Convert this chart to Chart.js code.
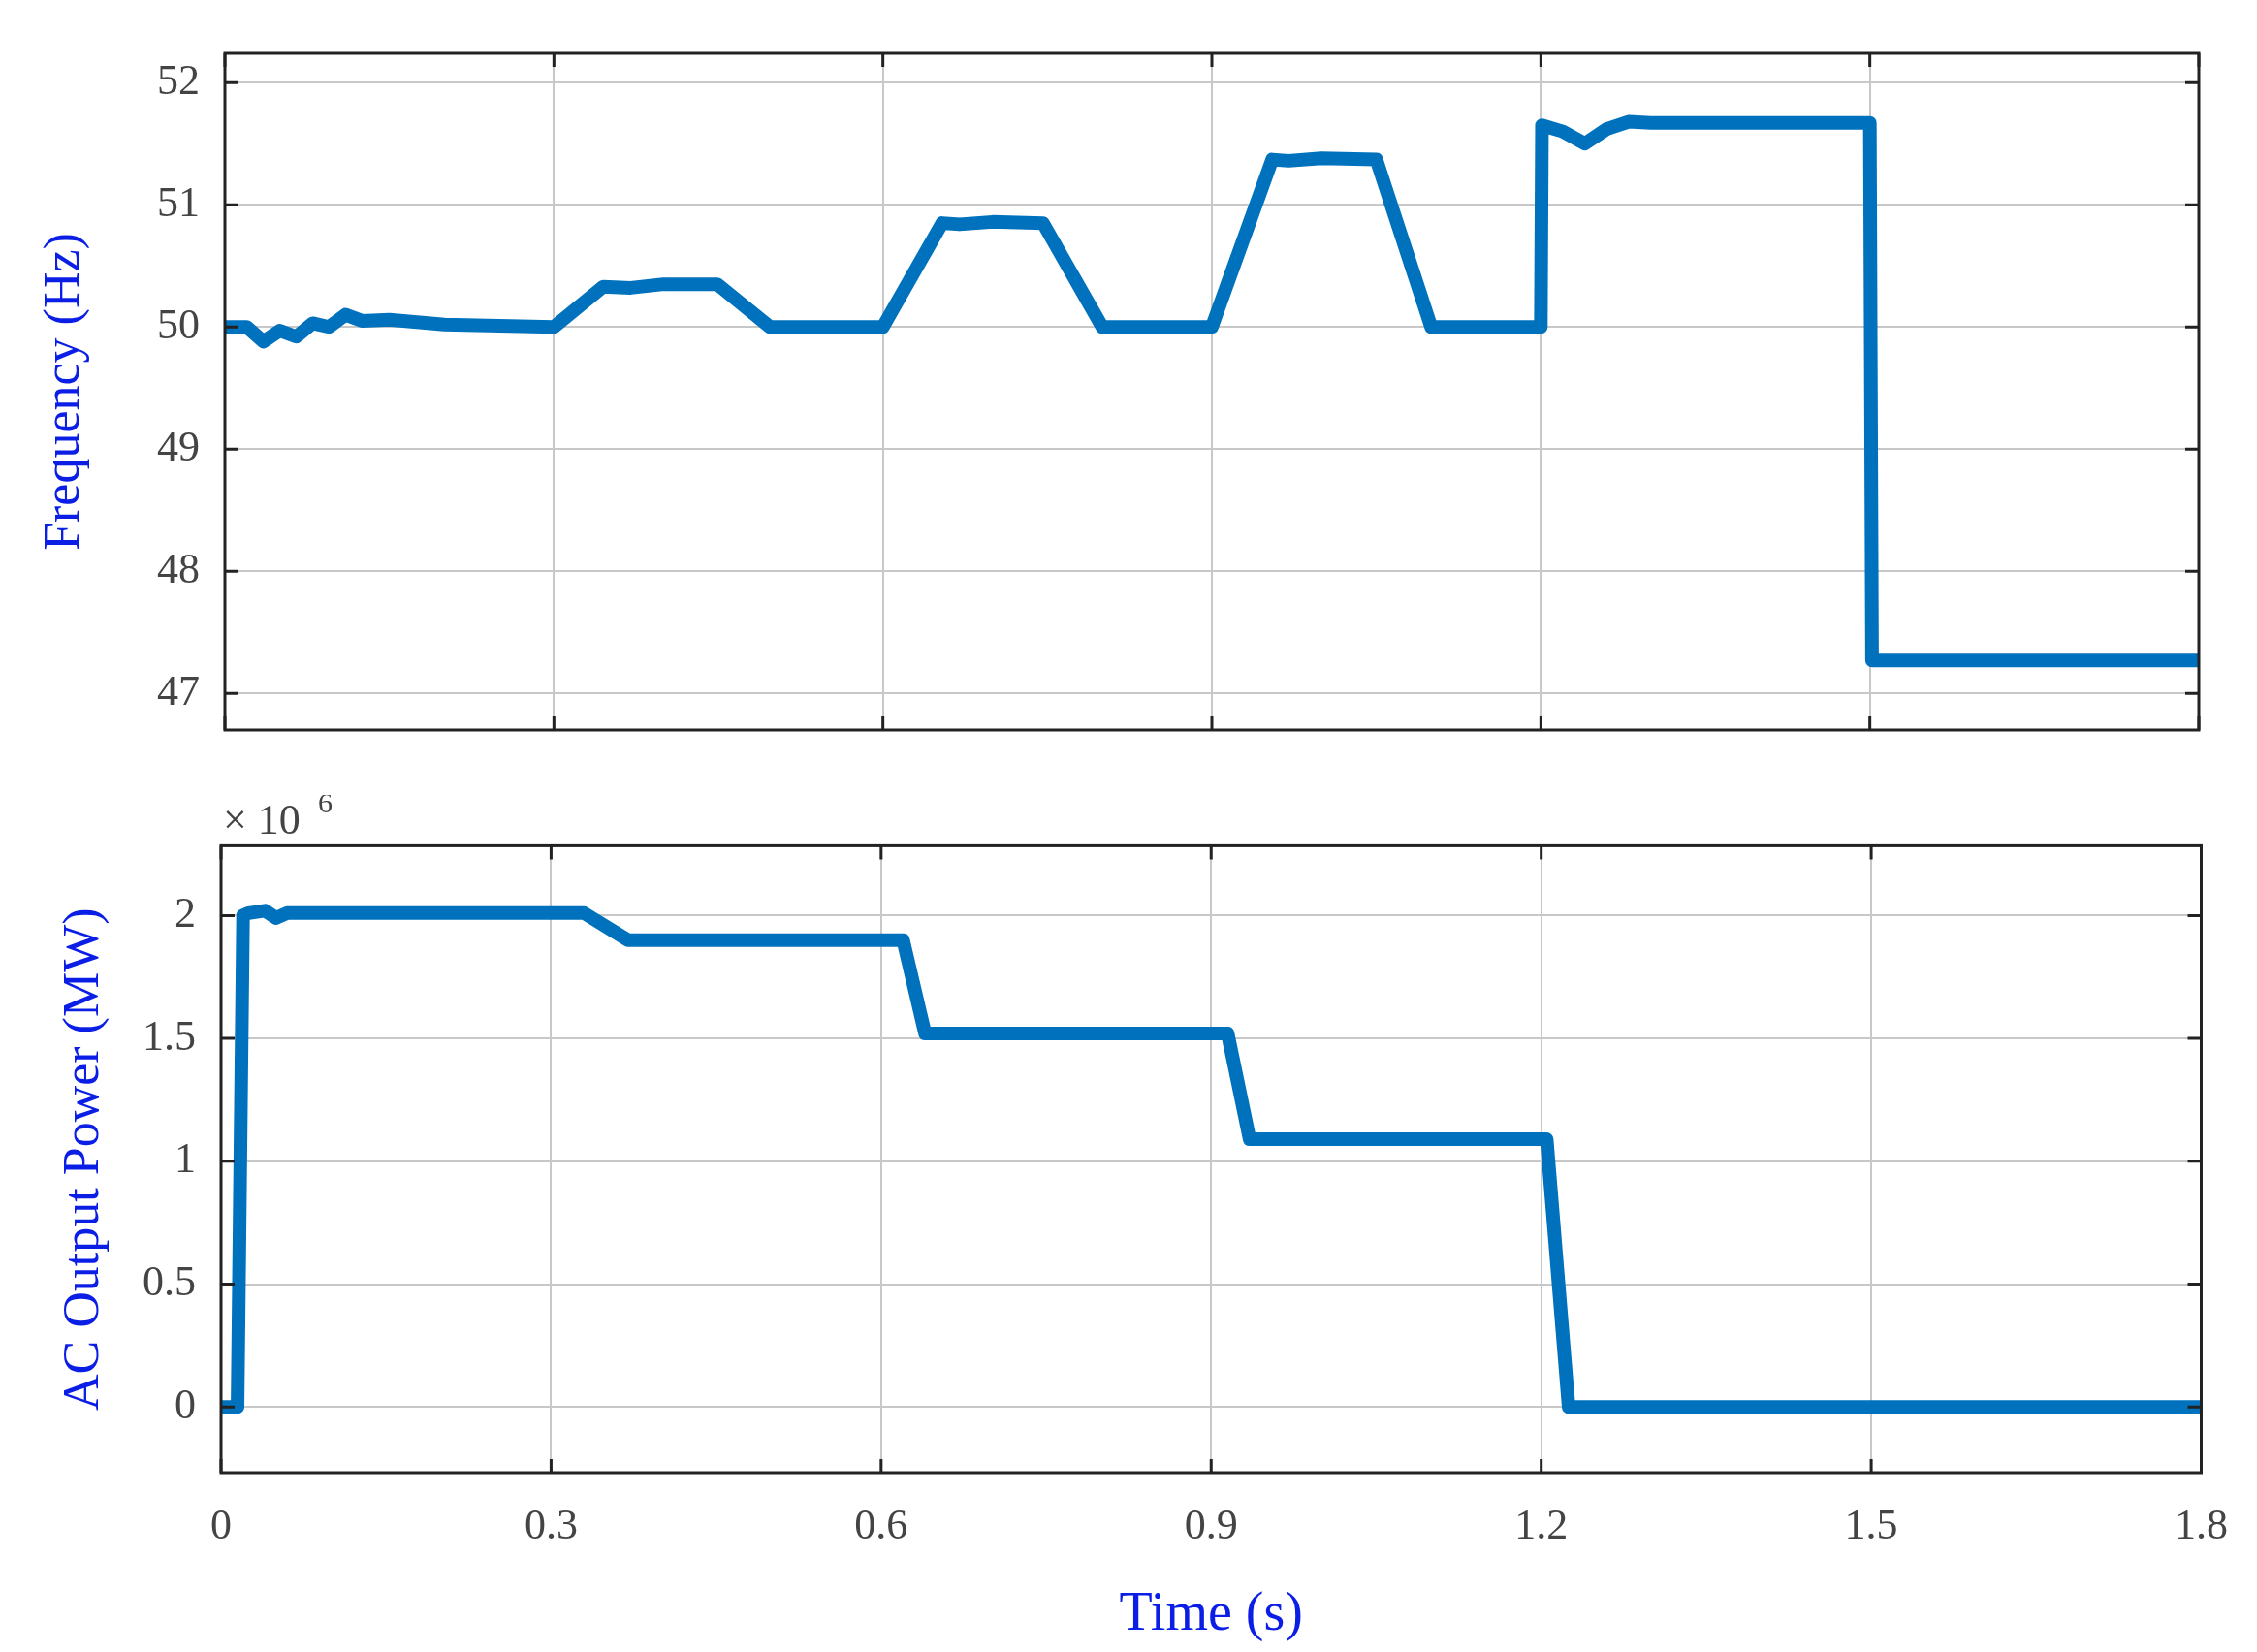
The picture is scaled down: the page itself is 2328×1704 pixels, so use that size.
<!DOCTYPE html>
<html>
<head>
<meta charset="utf-8">
<script src="https://cdn.jsdelivr.net/npm/chart.js@4"></script>
<style>
  body { margin: 0; background: #fff; }
  .wrap { position: absolute; left: 0; width: 2328px; }
  #topWrap { top: 0; height: 820px; }
  #botWrap { top: 820px; height: 884px; }
</style>
</head>
<body>
<div class="wrap" id="topWrap"><canvas id="freqChart"></canvas></div>
<div class="wrap" id="botWrap"><canvas id="powerChart"></canvas></div>
<script>
// Frequency (Hz) over time (s)
const freqTime = [0, 0.02, 0.035, 0.05, 0.065, 0.08, 0.095, 0.11, 0.125, 0.15, 0.2, 0.3, 0.345, 0.37, 0.4, 0.449, 0.497, 0.6, 0.654, 0.67, 0.7, 0.746, 0.8, 0.9, 0.955, 0.97, 1.0, 1.05, 1.1, 1.2, 1.201, 1.22, 1.24, 1.26, 1.28, 1.3, 1.5, 1.502, 1.8];
const freqValues = [50, 50, 49.88, 49.97, 49.92, 50.03, 50.0, 50.1, 50.05, 50.06, 50.02, 50.0, 50.33, 50.32, 50.35, 50.35, 50.0, 50.0, 50.85, 50.84, 50.86, 50.85, 50.0, 50.0, 51.37, 51.36, 51.38, 51.37, 50.0, 50.0, 51.65, 51.6, 51.5, 51.62, 51.68, 51.67, 51.67, 47.27, 47.27];
// AC output power (x10^6) over time (s)
const powerTime = [0, 0.015, 0.02, 0.025, 0.04, 0.05, 0.06, 0.33, 0.37, 0.62, 0.64, 0.915, 0.935, 1.205, 1.225, 1.8];
const powerValues = [0, 0, 2.0, 2.01, 2.02, 1.99, 2.01, 2.01, 1.9, 1.9, 1.52, 1.52, 1.09, 1.09, 0, 0];
const freqTicks = [47, 48, 49, 50, 51, 52];
const powerTicks = [0, 0.5, 1, 1.5, 2];
const timeTicks = [0, 0.3, 0.6, 0.9, 1.2, 1.5, 1.8];

const serif = "'Liberation Serif', 'DejaVu Serif', serif";
const lineColor = '#0072BD';

const framePlugin = {
  id: 'frame',
  afterDraw(chart) {
    const { ctx, chartArea: a } = chart;
    ctx.save();
    ctx.strokeStyle = '#222';
    ctx.lineWidth = 3;
    ctx.strokeRect(a.left, a.top, a.right - a.left, a.bottom - a.top);
    // small inward tick marks
    ctx.lineWidth = 3;
    const xs = chart.scales.x, ys = chart.scales.y;
    timeTicks.forEach(t => {
      const px = xs.getPixelForValue(t);
      ctx.beginPath();
      ctx.moveTo(px, a.bottom); ctx.lineTo(px, a.bottom - 14);
      ctx.moveTo(px, a.top); ctx.lineTo(px, a.top + 14);
      ctx.stroke();
    });
    chart.options.yTickList.forEach(v => {
      const py = ys.getPixelForValue(v);
      ctx.beginPath();
      ctx.moveTo(a.left, py); ctx.lineTo(a.left + 14, py);
      ctx.moveTo(a.right, py); ctx.lineTo(a.right - 14, py);
      ctx.stroke();
    });
    if (chart.options.exponentLabel) {
      ctx.fillStyle = '#444';
      ctx.font = '44px ' + serif;
      ctx.textBaseline = 'alphabetic';
      ctx.fillText('\u00d7 10', a.left + 2, a.top - 12);
      ctx.font = '30px ' + serif;
      ctx.fillText('6', a.left + 100, a.top - 34);
    }
    ctx.restore();
  }
};

function makeOptions(cfg) {
  return {
    responsive: true,
    maintainAspectRatio: false,
    animation: false,
    yTickList: cfg.yTicks,
    exponentLabel: cfg.exponent,
    layout: { padding: { top: cfg.padTop, right: cfg.padRight, left: 0, bottom: 0 } },
    plugins: { legend: { display: false }, tooltip: { enabled: false } },
    elements: { point: { radius: 0 }, line: { tension: 0 } },
    scales: {
      x: {
        type: 'linear', min: 0, max: 1.8,
        afterBuildTicks: s => { s.ticks = timeTicks.map(v => ({ value: v })); },
        afterFit: s => { s.height = cfg.xHeight; },
        grid: { color: '#c8c8c8', lineWidth: 2, drawTicks: false },
        border: { display: false },
        ticks: {
          display: cfg.showX, color: '#444', padding: 30,
          font: { family: serif, size: 44 },
          callback: v => String(v)
        },
        title: {
          display: cfg.showX, text: 'Time (s)', color: '#0a1ee6',
          font: { family: serif, size: 56 }, padding: { top: 4 }
        }
      },
      y: {
        type: 'linear', min: cfg.yMin, max: cfg.yMax,
        afterBuildTicks: s => { s.ticks = cfg.yTicks.map(v => ({ value: v })); },
        afterFit: s => { s.width = cfg.yWidth; },
        grid: { color: '#c8c8c8', lineWidth: 2, drawTicks: false },
        border: { display: false },
        ticks: {
          color: '#444', padding: 26,
          font: { family: serif, size: 44 },
          callback: v => String(v)
        },
        title: {
          display: true, text: cfg.yTitle, color: '#0a1ee6',
          font: { family: serif, size: 52 }, padding: { top: cfg.yTitlePad, bottom: 0 }
        }
      }
    }
  };
}

new Chart(document.getElementById('freqChart'), {
  type: 'line',
  data: {
    datasets: [{
      data: freqTime.map((t, i) => ({ x: t, y: freqValues[i] })),
      borderColor: lineColor, borderWidth: 14, borderJoinStyle: 'round', fill: false
    }]
  },
  options: makeOptions({
    yTicks: freqTicks, yMin: 46.7, yMax: 52.24, yTitle: 'Frequency (Hz)',
    padTop: 55, padRight: 60, xHeight: 67, yWidth: 232, showX: false,
    exponent: false, yTitlePad: 36
  }),
  plugins: [framePlugin]
});

new Chart(document.getElementById('powerChart'), {
  type: 'line',
  data: {
    datasets: [{
      data: powerTime.map((t, i) => ({ x: t, y: powerValues[i] })),
      borderColor: lineColor, borderWidth: 14, borderJoinStyle: 'round', fill: false
    }]
  },
  options: makeOptions({
    yTicks: powerTicks, yMin: -0.267, yMax: 2.284, yTitle: 'AC Output Power (MW)',
    padTop: 42, padRight: 53, xHeight: 185, yWidth: 228, showX: true,
    exponent: true, yTitlePad: 56
  }),
  plugins: [framePlugin]
});
</script>
</body>
</html>
